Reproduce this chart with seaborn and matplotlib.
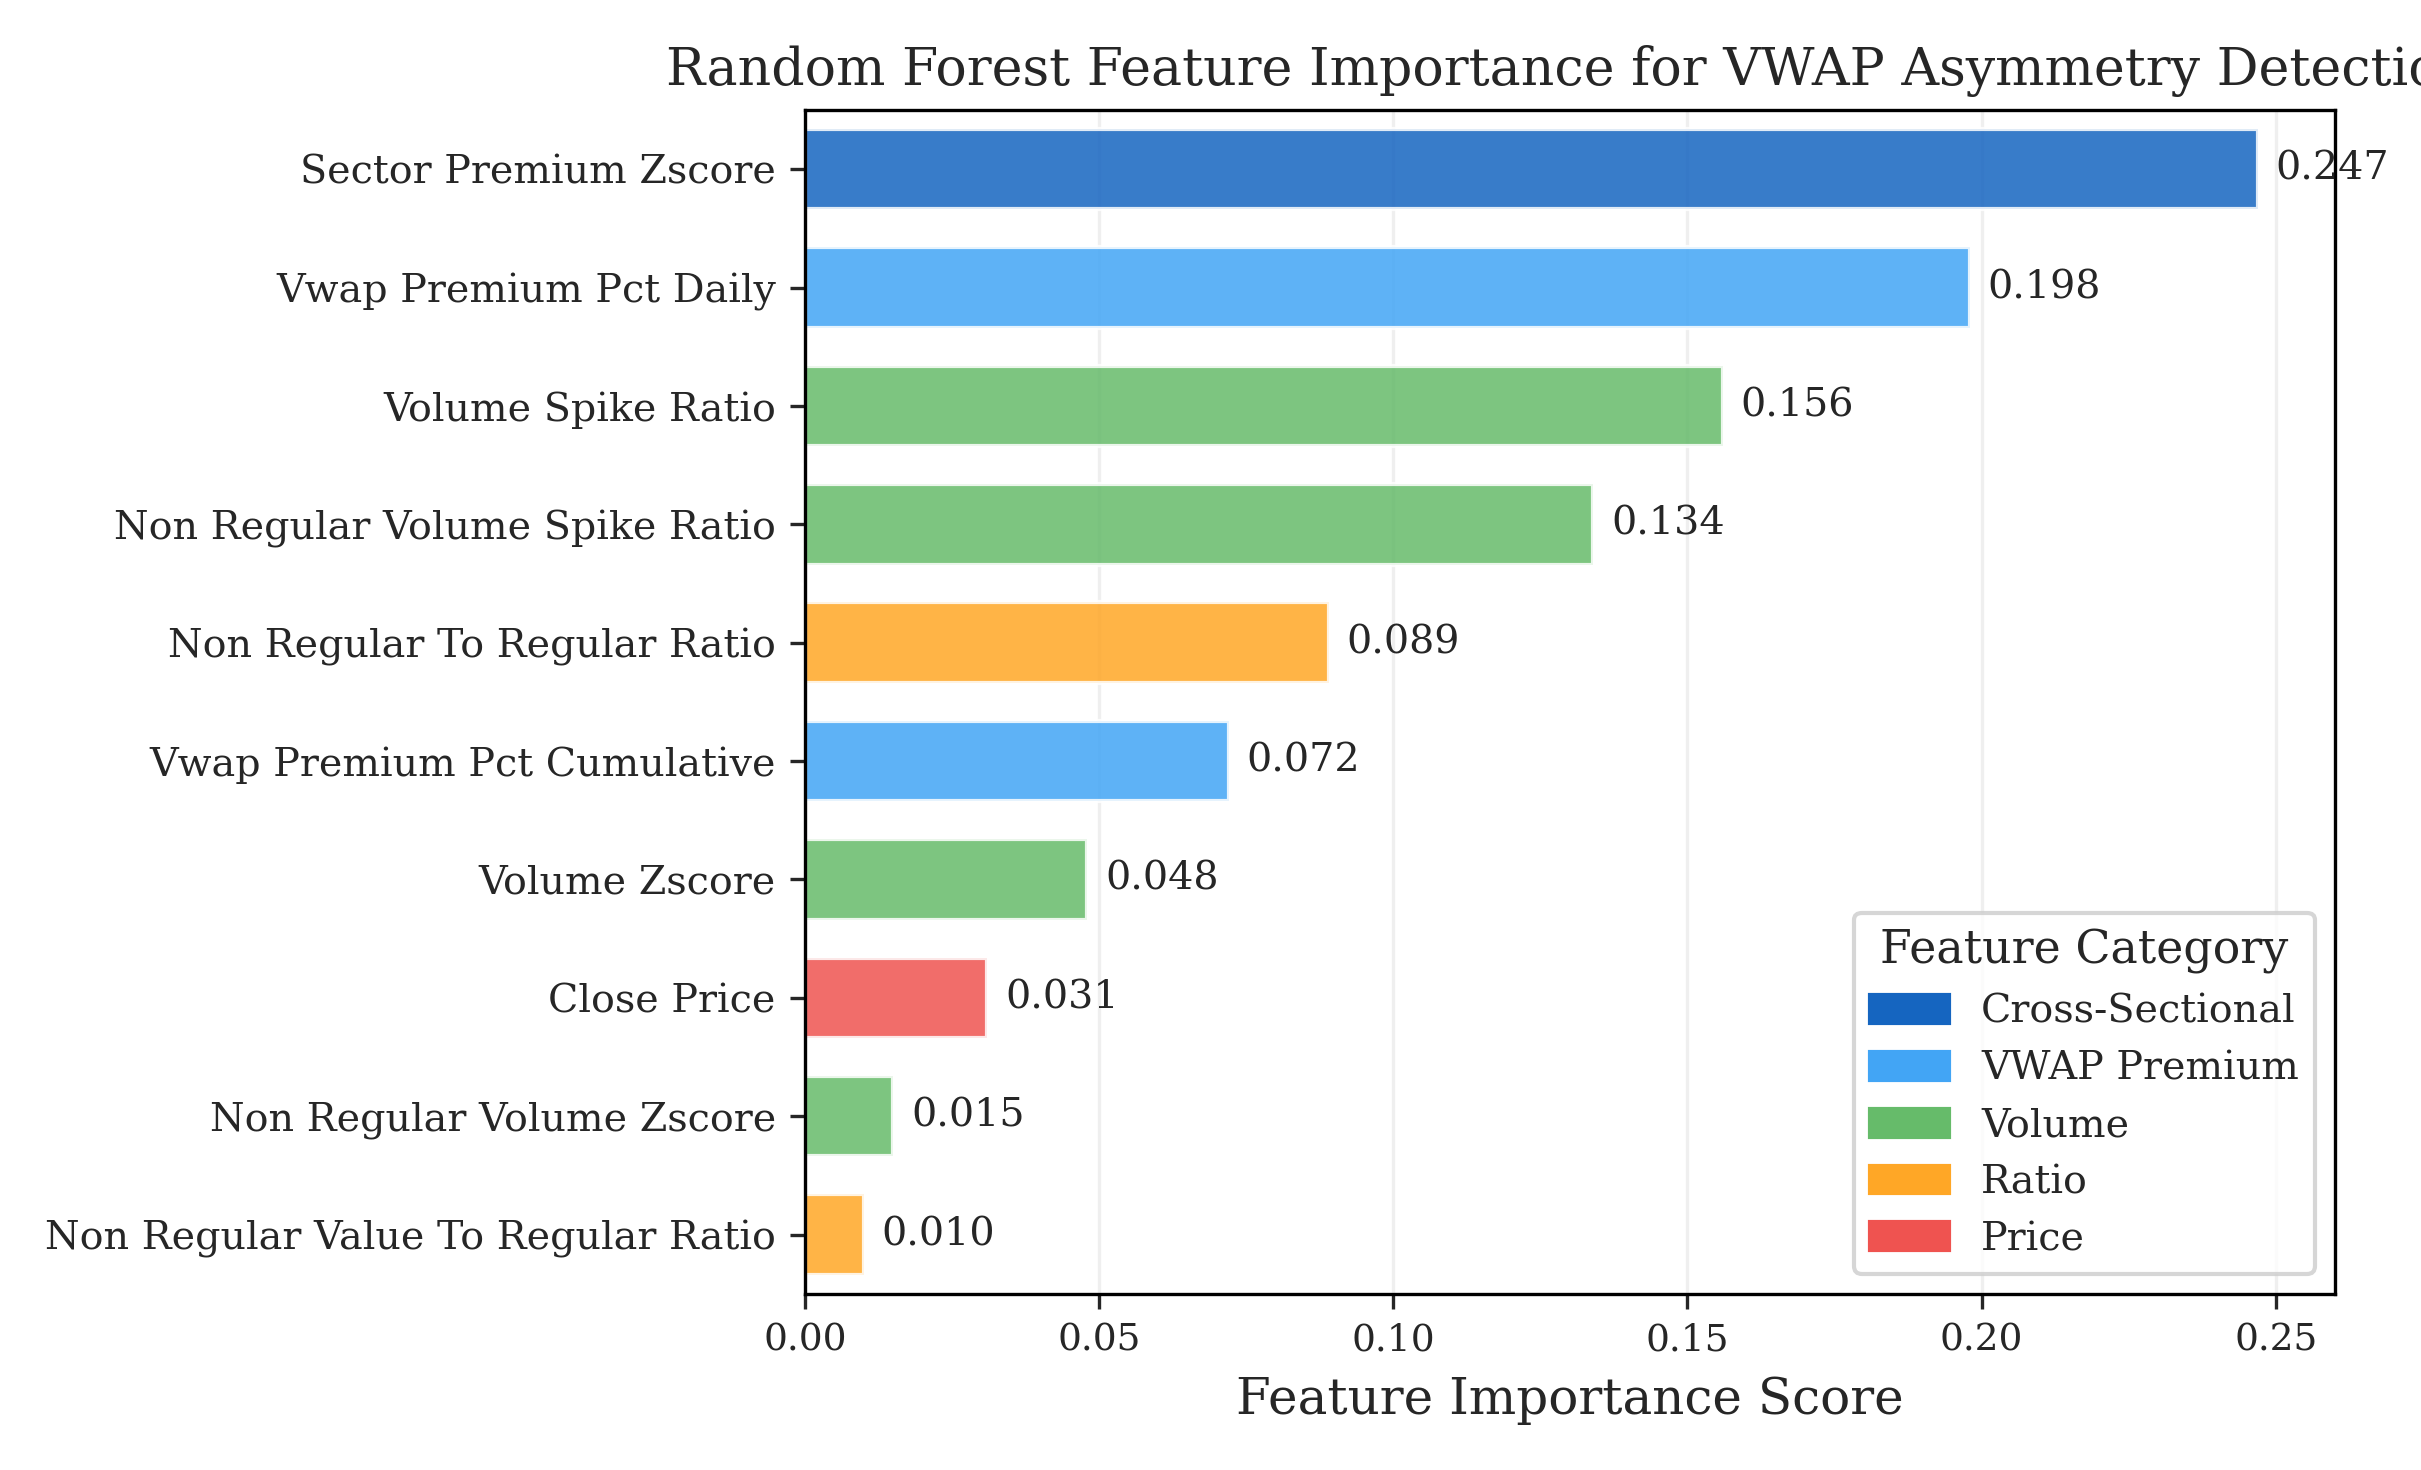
import pandas as pd
import seaborn as sns
import matplotlib.pyplot as plt
from matplotlib.patches import Patch

features = ["Sector Premium Zscore", "Vwap Premium Pct Daily", "Volume Spike Ratio",
            "Non Regular Volume Spike Ratio", "Non Regular To Regular Ratio",
            "Vwap Premium Pct Cumulative", "Volume Zscore", "Close Price",
            "Non Regular Volume Zscore", "Non Regular Value To Regular Ratio"]
importance = [0.247, 0.198, 0.156, 0.134, 0.089, 0.072, 0.048, 0.031, 0.015, 0.010]
category = ["Cross-Sectional", "VWAP Premium", "Volume", "Volume", "Ratio",
            "VWAP Premium", "Volume", "Price", "Volume", "Ratio"]
categories = ["Cross-Sectional", "VWAP Premium", "Volume", "Ratio", "Price"]
colors = ["#1565C0", "#42A5F5", "#66BB6A", "#FFA726", "#EF5350"]
palette = dict(zip(categories, colors))

df = pd.DataFrame({"feature": features, "importance": importance, "category": category})

sns.set_style("white")
plt.rcParams['font.family'] = ['DejaVu Serif']

fig, ax = plt.subplots(figsize=(8.07, 4.9), dpi=300)
sns.barplot(data=df, y="feature", x="importance", hue="category", palette=palette,
            dodge=False, alpha=0.85, width=0.68, saturation=1, legend=False, ax=ax)
for i, v in enumerate(importance):
    ax.text(v + 0.003, i, f"{v:.3f}", va="center", fontsize=9.5)

ax.set_xlim(0, 0.26)
ax.set_xlabel("Feature Importance Score", fontsize=12)
ax.set_ylabel("")
ax.set_title("Random Forest Feature Importance for VWAP Asymmetry Detection", fontsize=12.5)
ax.tick_params(axis='y', labelsize=9.5, left=True, length=3.5)
ax.tick_params(axis='x', labelsize=9, bottom=True, length=3.5)
ax.xaxis.grid(True, alpha=0.3)
ax.set_axisbelow(True)
for s in ax.spines.values():
    s.set_color("black")

handles = [Patch(color=c, label=l) for l, c in zip(categories, colors)]
ax.legend(handles=handles, title="Feature Category", loc="lower right", fontsize=9.5,
          title_fontsize=11)
plt.tight_layout()
plt.savefig("out.png", dpi=300)
